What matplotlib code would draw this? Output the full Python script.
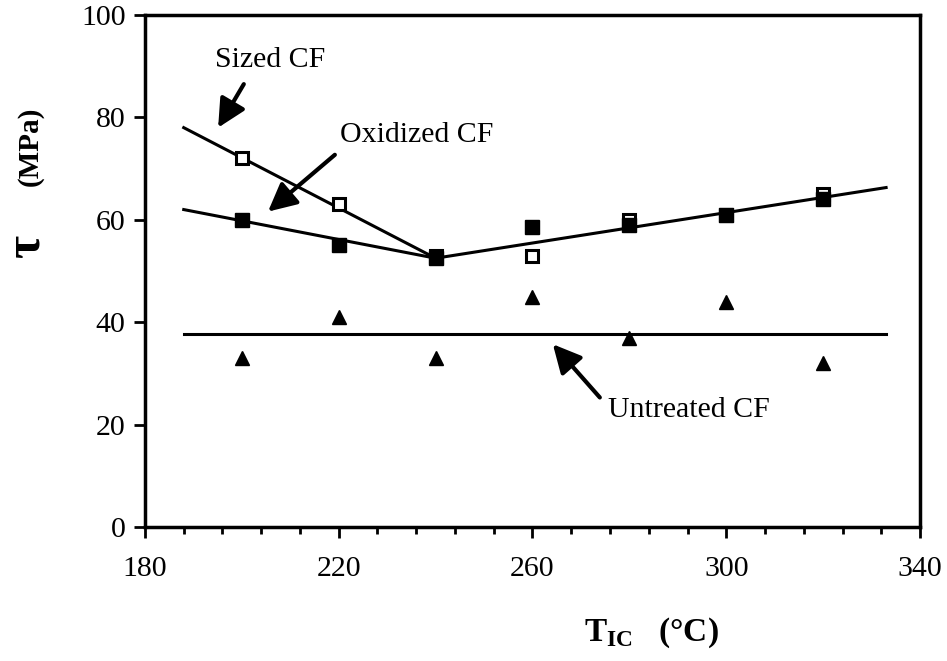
import matplotlib
matplotlib.use("Agg")
import matplotlib.pyplot as plt
import numpy as np
from matplotlib.ticker import FixedLocator

plt.rcParams['font.family'] = ['Liberation Serif', 'DejaVu Serif']
plt.rcParams['mathtext.fontset'] = 'custom'
plt.rcParams['mathtext.rm'] = 'Liberation Serif'
plt.rcParams['mathtext.bf'] = 'Liberation Serif:bold'

# Interphase crystallisation temperature (°C)
temps = [200, 220, 240, 260, 280, 300, 320]

# Interfacial shear strength (MPa)
sized_tau = [72, 63, 53, 53, 60, 61, 65]
oxidized_tau = [60, 55, 52.5, 58.5, 59, 61, 64]
untreated_tau = [33, 41, 33, 45, 37, 44, 32]

# Trend lines
sized_fit_T = [188, 240]
sized_fit_tau = [78, 52.5]
oxidized_fit_T = [188, 240]
oxidized_fit_tau = [62, 52.5]
common_fit_T = [240, 333]
common_fit_tau = [52.5, 66.3]
untreated_fit_T = [188, 333]
untreated_fit_tau = [37.7, 37.7]

x_major = [180, 220, 260, 300, 340]
x_minor = list(range(180, 341, 8))
y_major = [0, 20, 40, 60, 80, 100]

fig = plt.figure(figsize=(9.47, 6.61), dpi=100)
ax = fig.add_axes([0.1531, 0.2027, 0.8184, 0.7746])

lw = 2.2
ax.plot(sized_fit_T, sized_fit_tau, color='black', lw=lw, zorder=2)
ax.plot(oxidized_fit_T, oxidized_fit_tau, color='black', lw=lw, zorder=2)
ax.plot(common_fit_T, common_fit_tau, color='black', lw=lw, zorder=2)
ax.plot(untreated_fit_T, untreated_fit_tau, color='black', lw=lw, zorder=2)

ax.plot(temps, sized_tau, linestyle='none', marker='s', markersize=8.5,
        markerfacecolor='white', markeredgecolor='black', markeredgewidth=2.2, zorder=3)
ax.plot(temps, oxidized_tau, linestyle='none', marker='s', markersize=10,
        markerfacecolor='black', markeredgecolor='black', zorder=4)
ax.plot(temps, untreated_tau, linestyle='none', marker='^', markersize=9.5,
        markerfacecolor='black', markeredgecolor='black', zorder=4)

ax.set_xlim(180, 340)
ax.set_ylim(0, 100)
ax.xaxis.set_major_locator(FixedLocator(x_major))
ax.xaxis.set_minor_locator(FixedLocator(x_minor))
ax.yaxis.set_major_locator(FixedLocator(y_major))
ax.tick_params(axis='both', which='major', direction='out', length=8, width=2,
               labelsize=21.5, pad=6)
ax.tick_params(axis='x', which='major', pad=13)
ax.tick_params(axis='x', which='minor', direction='out', length=5, width=2)
ax.tick_params(top=False, right=False)
for sp in ax.spines.values():
    sp.set_linewidth(2.5)

arrow_kw = dict(arrowstyle='-|>,head_length=0.9,head_width=0.45', lw=3,
                color='black', shrinkA=0, shrinkB=0, mutation_scale=19)
ax.annotate('', xy=(195.1, 78.0), xytext=(200.4, 86.5), arrowprops=arrow_kw)
ax.annotate('', xy=(205.4, 61.6), xytext=(219.2, 72.7), arrowprops=arrow_kw)
ax.annotate('', xy=(264.2, 35.7), xytext=(273.9, 25.3), arrowprops=arrow_kw)

ax.text(205.8, 91.2, 'Sized CF', fontsize=21.5, ha='center', va='center')
ax.text(220.3, 76.6, 'Oxidized CF', fontsize=21.5, ha='left', va='center')
ax.text(275.6, 22.9, 'Untreated CF', fontsize=21.5, ha='left', va='center')

# y-axis title: large tau symbol followed by the unit
fig.text(27 / 947, 1 - 247 / 661, 'τ', rotation=90,
         fontsize=36, fontweight='bold', ha='center', va='center')
fig.text(30 / 947, 1 - 146 / 661, '(MPa)', rotation=90,
         fontsize=21, fontweight='bold', ha='center', va='center')
fig.text(651 / 947, 1 - 633 / 661, r'T$_{\mathbf{IC}}$   (°C)',
         fontsize=24, fontweight='bold', ha='center', va='center')

fig.savefig('out.png', dpi=100)
